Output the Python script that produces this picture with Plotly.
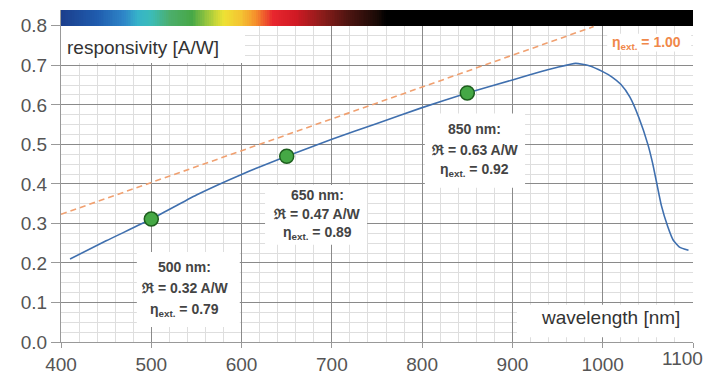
import numpy as np
import plotly.graph_objects as go

# ---- data ----
wavelength_nm = [410, 450, 500, 550, 600, 650, 700, 750, 800, 850, 900, 930, 950, 970,
                 985, 1000, 1010, 1020, 1030, 1040, 1050, 1055, 1060, 1065, 1072, 1078, 1085, 1095]
responsivity = [0.210, 0.256, 0.311, 0.372, 0.424, 0.470, 0.513, 0.553, 0.593, 0.630, 0.663,
                0.683, 0.695, 0.705, 0.699, 0.684, 0.671, 0.652, 0.620, 0.568, 0.500, 0.455, 0.400,
                0.345, 0.292, 0.258, 0.240, 0.232]

ideal_nm = [400, 990]
ideal_resp = [0.323, 0.798]

marker_nm = [500, 650, 850]
marker_resp = [0.311, 0.470, 0.630]
marker_labels = [
    ["500 nm:", "ℜ = 0.32 A/W", "η<sub>ext.</sub> = 0.79"],
    ["650 nm:", "ℜ = 0.47 A/W", "η<sub>ext.</sub> = 0.89"],
    ["850 nm:", "ℜ = 0.63 A/W", "η<sub>ext.</sub> = 0.92"],
]

spectrum_nm = [400, 440, 470, 485, 500, 520, 545, 565, 580, 600, 615, 635, 660, 690, 720, 750, 760, 1100]
spectrum_colors = ["#1b3e8c", "#1f5cae", "#2e86c8", "#36b3c9", "#3bbcb8", "#4cae6c", "#47a847",
                   "#a8cc3c", "#eee234", "#f4c232", "#f5922c", "#e8262e", "#d01a24", "#8a1c1a",
                   "#4a1410", "#1a0a06", "#000000", "#000000"]

x_ticks = [400, 500, 600, 700, 800, 900, 1000, 1100]
x_tick_labels = ["400", "500", "600", "700", "800", "900", "1000", "1100"]

FONT = "Liberation Sans, Arial, sans-serif"
TXT = "#444444"
TICKFONT = dict(family=FONT, size=19, color="#555555")

fig = go.Figure()

# spectral colour bar along the top
edges = np.arange(400, 1102, 2)
centers = (edges[:-1] + edges[1:]) / 2
cscale = [[(w - 400) / 700, c] for w, c in zip(spectrum_nm, spectrum_colors)]
fig.add_trace(go.Heatmap(x=edges, y=[0.8, 0.84], z=[centers], zmin=400, zmax=1100,
                         colorscale=cscale, showscale=False, hoverinfo="skip"))

# ideal (eta = 1) dashed line
fig.add_trace(go.Scatter(x=ideal_nm, y=ideal_resp, mode="lines",
                         line=dict(color="#f0a070", width=1.6, dash="6px,4px"),
                         hoverinfo="skip", showlegend=False))

# responsivity curve
fig.add_trace(go.Scatter(x=wavelength_nm, y=responsivity, mode="lines",
                         line=dict(color="#3f6fae", width=1.6, shape="spline", smoothing=0.5),
                         showlegend=False))

# marked points
fig.add_trace(go.Scatter(x=marker_nm, y=marker_resp, mode="markers",
                         marker=dict(size=14, color="#45a845", line=dict(color="#1e5e1e", width=1.5)),
                         showlegend=False))

# white boxes behind labels (between grid and traces)
boxes = [
    (400, 603.8, 0.706, 0.80),     # responsivity
    (905, 1100, 0.012, 0.094),     # wavelength
    (484, 598, 0.038, 0.228),      # 500 label
    (626, 739, 0.246, 0.397),      # 650 label
    (803, 914, 0.39, 0.578),       # 850 label
    (1005, 1098, 0.735, 0.78),     # eta label
]
for x0, x1, y0, y1 in boxes:
    fig.add_shape(type="rect", x0=x0, x1=x1, y0=y0, y1=y1, xref="x", yref="y",
                  fillcolor="white", line=dict(width=0), layer="between")

# label text
label_pos = [(537, [0.190, 0.137, 0.081]),
             (684, [0.372, 0.324, 0.276]),
             (858, [0.539, 0.486, 0.435])]
for (cx, ys), lines in zip(label_pos, marker_labels):
    for yy, t in zip(ys, lines):
        fig.add_annotation(x=cx, y=yy, text="<b>" + t + "</b>", showarrow=False,
                           xanchor="center", yanchor="middle",
                           font=dict(family=FONT, size=14, color=TXT))

fig.add_annotation(x=404, y=0.746, text="responsivity [A/W]", showarrow=False,
                   xanchor="left", yanchor="middle", font=dict(family=FONT, size=19, color="#333333"))
fig.add_annotation(x=1088, y=0.061, text="wavelength [nm]", showarrow=False,
                   xanchor="right", yanchor="middle", font=dict(family=FONT, size=19, color="#333333"))
fig.add_annotation(x=1049, y=0.757, text="<b>η<sub>ext.</sub> = 1.00</b>", showarrow=False,
                   xanchor="center", yanchor="middle", font=dict(family=FONT, size=14, color="#f0884a"))

# last x tick label sits at the window edge: draw it right-aligned so it is not clipped
fig.add_annotation(x=x_ticks[-1], y=0, text=x_tick_labels[-1], showarrow=False,
                   xanchor="right", yanchor="top", xshift=12, yshift=-4, font=TICKFONT)
shown_labels = x_tick_labels[:-1] + [""]

fig.update_xaxes(range=[400, 1100], tickvals=x_ticks, ticktext=shown_labels, ticks="outside",
                 ticklen=5, tickcolor="#999999", showgrid=True, gridcolor="#8a8a8a", gridwidth=1,
                 minor=dict(dtick=20, tick0=400, showgrid=True, gridcolor="#dedede", gridwidth=1),
                 showline=True, linecolor="#999999", zeroline=False, automargin=False,
                 tickfont=TICKFONT)
fig.update_yaxes(range=[0, 0.84], tick0=0, dtick=0.1, tickformat=".1f", ticks="outside",
                 ticklen=9, tickcolor="#999999", showgrid=True, gridcolor="#8a8a8a", gridwidth=1,
                 minor=dict(dtick=0.025, tick0=0, showgrid=True, gridcolor="#dedede", gridwidth=1),
                 showline=True, linecolor="#999999", zeroline=False, automargin=False,
                 tickfont=TICKFONT)

# page body keeps its default 8px margin, so the figure sits 8px in from the window corner
fig.update_layout(width=705, height=368, margin=dict(l=53, r=20, t=2, b=34),
                  plot_bgcolor="white", paper_bgcolor="white", showlegend=False)

fig.write_html("out.html", config={"displayModeBar": False},
               post_script="document.documentElement.style.overflow='hidden';"
                           "document.body.style.overflow='hidden';")
